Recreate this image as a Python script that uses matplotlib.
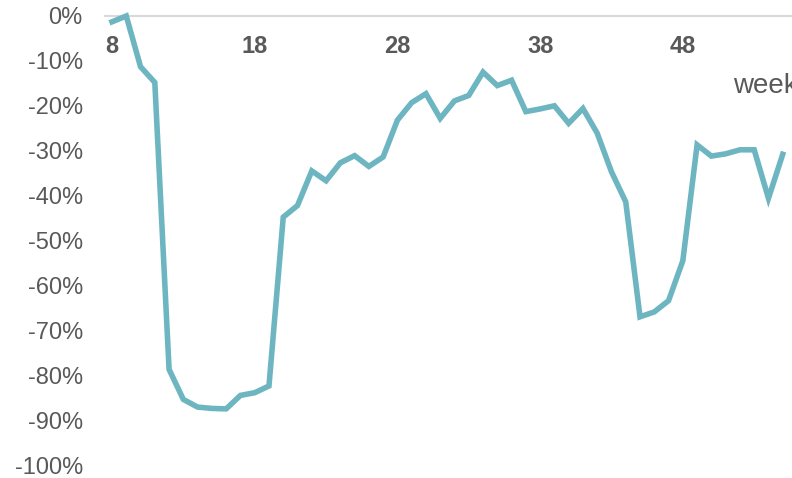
import matplotlib
matplotlib.use("Agg")
import matplotlib.pyplot as plt
from matplotlib.ticker import FuncFormatter

# weekly change vs. previous year
weeks = list(range(8, 56))
change = [-1.3, 0.0, -11.3, -14.8, -78.7, -85.4, -87.1, -87.4, -87.5, -84.5,
          -83.9, -82.4, -44.8, -42.2, -34.5, -36.7, -32.7, -31.1, -33.5, -31.4,
          -23.2, -19.3, -17.3, -22.8, -18.9, -17.7, -12.5, -15.5, -14.3, -21.3,
          -20.7, -20.0, -23.9, -20.6, -26.1, -34.7, -41.4, -67.0, -65.9, -63.4,
          -54.5, -28.7, -31.2, -30.7, -29.8, -29.8, -40.6, -30.8]
xticks = [8, 18, 28, 38, 48]
yticks = [0, -10, -20, -30, -40, -50, -60, -70, -80, -90, -100]

plt.rcParams['font.family'] = ['Liberation Sans', 'DejaVu Sans']
grey = '#595959'

fig = plt.figure(figsize=(7.92, 4.78), dpi=100)
ax = fig.add_axes([105/792, 1 - 465/478, 687/792, 449/478])

ax.plot(weeks, [v / 100 for v in change], color='#6db6c1', lw=4.0,
        solid_joinstyle='miter', clip_on=False)

ax.set_xlim(7.51, 55.65)
ax.set_ylim(-1.0, 0.0)
ax.set_xticks(xticks)
ax.set_yticks([v / 100 for v in yticks])
ax.yaxis.set_major_formatter(FuncFormatter(lambda v, p: f"{v:.0%}" if v != 0 else "0%"))

for s in ['top', 'right', 'left']:
    ax.spines[s].set_visible(False)
ax.spines['bottom'].set_position(('data', 0))
ax.spines['bottom'].set_color('#d9d9d9')
ax.spines['bottom'].set_linewidth(1.5)
ax.spines['bottom'].set_zorder(0)

ax.tick_params(axis='x', length=0, pad=13.5, labelsize=17, labelcolor=grey)
ax.tick_params(axis='y', length=0, pad=16, labelsize=17, labelcolor=grey)
for lbl in ax.get_xticklabels():
    lbl.set_fontweight('bold')

# axis title sits past the right edge, partly cut off
ax.text(51.5, -0.171, "week", fontsize=20, color=grey, va='baseline', ha='left',
        clip_on=False)

fig.savefig("out.png", dpi=100)
